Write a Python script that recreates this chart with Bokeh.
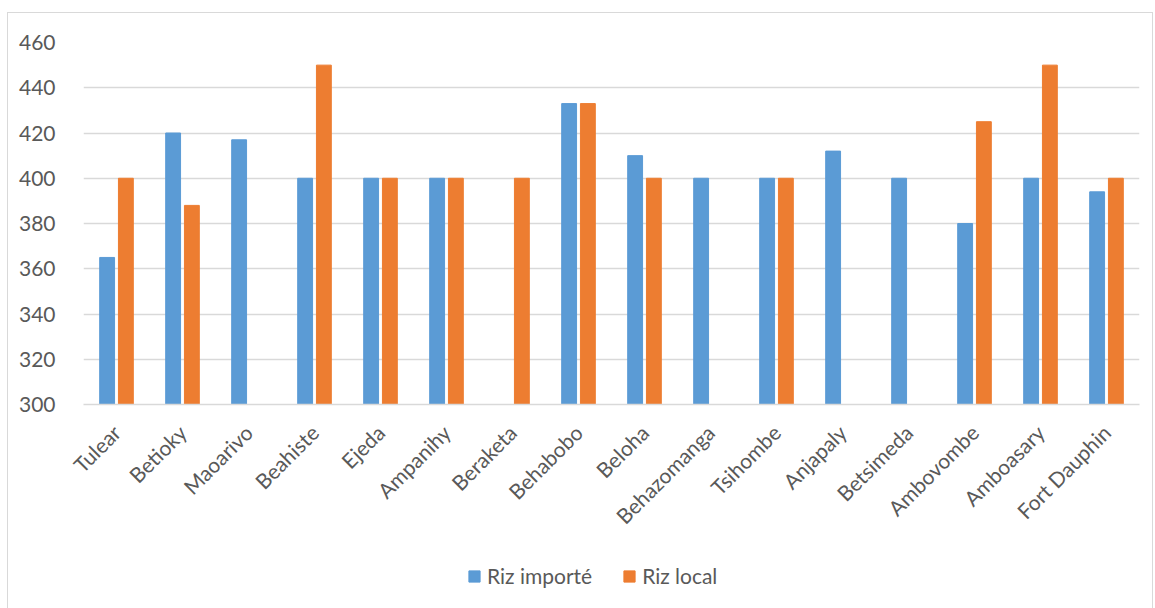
import math
from bokeh.plotting import figure
from bokeh.layouts import column
from bokeh.models import FactorRange, Range1d, SingleIntervalTicker, Legend, LegendItem, ColumnDataSource
from bokeh.transform import dodge
from bokeh.embed import file_html
from bokeh.resources import INLINE

# Prix du riz par localité
localites = ["Tulear", "Betioky", "Maoarivo", "Beahiste", "Ejeda", "Ampanihy", "Beraketa",
             "Behabobo", "Beloha", "Behazomanga", "Tsihombe", "Anjapaly", "Betsimeda",
             "Ambovombe", "Amboasary", "Fort Dauphin"]
nan = float("nan")
riz_importe = [365, 420, 417, 400, 400, 400, nan, 433, 410, 400, 400, 412, 400, 380, 400, 394]
riz_local = [400, 388, nan, 450, 400, 400, 400, 433, 400, nan, 400, nan, nan, 425, 450, 400]
serie_noms = ["Riz importé", "Riz local"]
y_ticks_debut, y_ticks_fin, y_pas = 300, 460, 20

BLEU = "#5B9BD5"
ORANGE = "#ED7D31"
GRIS_TEXTE = "#595959"
GRIS_GRILLE = "#D9D9D9"
POLICE = "Lato"

source = ColumnDataSource(dict(loc=localites, imp=riz_importe, loc_val=riz_local))

p = figure(
    x_range=FactorRange(*localites, range_padding=0),
    y_range=Range1d(y_ticks_debut, y_ticks_fin),
    width=1144, height=550,
    output_backend="svg", toolbar_location=None,
    min_border_left=75, min_border_right=13, min_border_top=29, min_border_bottom=159,
)
p.outline_line_color = None
p.background_fill_color = "white"
p.border_fill_color = "white"

r1 = p.vbar(x=dodge("loc", -0.142, range=p.x_range), top="imp", bottom=0, width=0.225,
            source=source, fill_color=BLEU, line_color=BLEU)
r2 = p.vbar(x=dodge("loc", 0.142, range=p.x_range), top="loc_val", bottom=0, width=0.225,
            source=source, fill_color=ORANGE, line_color=ORANGE)

# Axe vertical
p.yaxis.ticker = SingleIntervalTicker(interval=y_pas)
p.yaxis.axis_line_color = None
p.yaxis.major_tick_line_color = None
p.yaxis.minor_tick_line_color = None
p.yaxis.major_label_standoff = 22
p.yaxis.major_label_text_font = POLICE
p.yaxis.major_label_text_font_size = "21px"
p.yaxis.major_label_text_color = GRIS_TEXTE
p.ygrid.grid_line_color = GRIS_GRILLE
p.ygrid.grid_line_width = 1.5

# Axe horizontal
p.xaxis.axis_line_color = GRIS_GRILLE
p.xaxis.axis_line_width = 1.5
p.xaxis.major_tick_line_color = None
p.xaxis.minor_tick_line_color = None
p.xaxis.major_label_orientation = math.pi / 4
p.xaxis.major_label_standoff = 18
p.xaxis.major_label_text_font = POLICE
p.xaxis.major_label_text_font_size = "21px"
p.xaxis.major_label_text_color = GRIS_TEXTE
p.xgrid.grid_line_color = None

# Bandeau de légende sous le graphique (les glyphes témoins restent hors de la zone visible)
pl = figure(
    width=1144, height=50, x_range=Range1d(0, 1), y_range=Range1d(0, 1),
    output_backend="svg", toolbar_location=None,
    min_border=0, x_axis_type=None, y_axis_type=None,
)
pl.outline_line_color = None
pl.grid.visible = False
pl.background_fill_color = "white"
pl.border_fill_color = "white"
temoin = ColumnDataSource(dict(x=[-5], top=[0]))
g1 = pl.vbar(x="x", top="top", width=0.1, source=temoin, fill_color=BLEU, line_color=BLEU)
g2 = pl.vbar(x="x", top="top", width=0.1, source=temoin, fill_color=ORANGE, line_color=ORANGE)

legend = Legend(
    items=[LegendItem(label=serie_noms[0], renderers=[g1]),
           LegendItem(label=serie_noms[1], renderers=[g2])],
    orientation="horizontal",
    location=(384, 25),
    glyph_width=14, glyph_height=14,
    label_text_font=POLICE, label_text_font_size="21px", label_text_color=GRIS_TEXTE,
    label_standoff=6, spacing=30, padding=0, margin=0,
    border_line_alpha=0, background_fill_alpha=0,
)
pl.add_layout(legend, "center")

layout = column(p, pl, spacing=0,
                styles={"margin-left": "7px", "margin-top": "12px", "border": "1px solid #D9D9D9"})

open("out.html", "w").write(file_html(layout, INLINE))
